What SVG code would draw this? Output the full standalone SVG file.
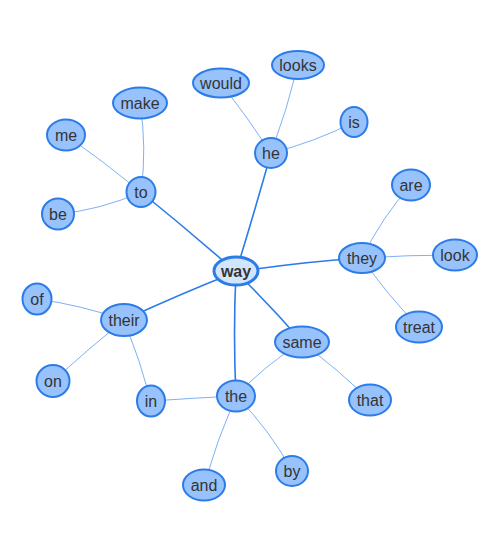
<svg xmlns="http://www.w3.org/2000/svg" width="500" height="550" viewBox="0 0 500 550">
<style>
.n ellipse{fill:#97C2FC;stroke:#2B7CE9;stroke-width:2}
.n text{font-family:"Liberation Sans",Arial,sans-serif;font-size:16px;fill:#343434;text-anchor:middle;dominant-baseline:central}
#n-way ellipse{fill:#D2E5FF;stroke-width:3}
#n-way text{font-weight:bold}
.e1{fill:none;stroke:#2B7CE9;stroke-width:1.6}
.e2{fill:none;stroke:#2B7CE9;stroke-width:1;stroke-opacity:0.6}
</style>
<rect width="500" height="550" fill="#fff"/>
<g id="edges">
<path class="e1" d="M236 272 Q255 210 271 153"/>
<path class="e1" d="M236 272 Q188 230 141 192"/>
<path class="e1" d="M236 272 Q300 262 362 258"/>
<path class="e1" d="M236 272 Q180 294 124 320"/>
<path class="e1" d="M236 272 Q233 334 236 396"/>
<path class="e1" d="M236 272 Q270 305 302 342"/>
<path class="e2" d="M271 153 Q248 118 221 83"/>
<path class="e2" d="M271 153 Q287 110 298 65"/>
<path class="e2" d="M271 153 Q315 142 354 122"/>
<path class="e2" d="M141 192 Q147 148 140 103"/>
<path class="e2" d="M141 192 Q104 162 66 135"/>
<path class="e2" d="M141 192 Q101 210 58 214"/>
<path class="e2" d="M362 258 Q382 217 411 185"/>
<path class="e2" d="M362 258 Q408 255 455 255"/>
<path class="e2" d="M362 258 Q387 295 419 327"/>
<path class="e2" d="M124 320 Q81 305 37 299"/>
<path class="e2" d="M124 320 Q87 350 53 381"/>
<path class="e2" d="M124 320 Q140 360 151 401"/>
<path class="e2" d="M151 401 Q194 398 236 396"/>
<path class="e2" d="M236 396 Q265 365 302 342"/>
<path class="e2" d="M302 342 Q338 370 370 400"/>
<path class="e2" d="M236 396 Q270 430 292 471"/>
<path class="e2" d="M236 396 Q217 440 204 485"/>
</g>
<g id="n-way" class="n"><ellipse cx="236" cy="271" rx="22" ry="14"/><text x="236" y="271">way</text></g>
<g id="n-he" class="n"><ellipse cx="271" cy="153" rx="16" ry="15"/><text x="271" y="153">he</text></g>
<g id="n-would" class="n"><ellipse cx="221" cy="83" rx="28" ry="14.5"/><text x="221" y="83">would</text></g>
<g id="n-looks" class="n"><ellipse cx="298" cy="65" rx="26" ry="14"/><text x="298" y="65">looks</text></g>
<g id="n-is" class="n"><ellipse cx="354" cy="122" rx="13.5" ry="15"/><text x="354" y="122">is</text></g>
<g id="n-to" class="n"><ellipse cx="141" cy="192" rx="14.5" ry="15"/><text x="141" y="192">to</text></g>
<g id="n-make" class="n"><ellipse cx="140" cy="103" rx="27" ry="15.5"/><text x="140" y="103">make</text></g>
<g id="n-me" class="n"><ellipse cx="66" cy="135" rx="19" ry="15.5"/><text x="66" y="135">me</text></g>
<g id="n-be" class="n"><ellipse cx="58" cy="214" rx="16" ry="15.5"/><text x="58" y="214">be</text></g>
<g id="n-they" class="n"><ellipse cx="362" cy="258" rx="23" ry="15"/><text x="362" y="258">they</text></g>
<g id="n-are" class="n"><ellipse cx="411" cy="185" rx="19" ry="15.5"/><text x="411" y="185">are</text></g>
<g id="n-look" class="n"><ellipse cx="455" cy="255" rx="22" ry="15.5"/><text x="455" y="255">look</text></g>
<g id="n-treat" class="n"><ellipse cx="419" cy="327" rx="23" ry="15.5"/><text x="419" y="327">treat</text></g>
<g id="n-their" class="n"><ellipse cx="124" cy="320" rx="23" ry="16"/><text x="124" y="320">their</text></g>
<g id="n-of" class="n"><ellipse cx="37" cy="299" rx="14.5" ry="15.5"/><text x="37" y="299">of</text></g>
<g id="n-on" class="n"><ellipse cx="53" cy="381" rx="16.5" ry="16"/><text x="53" y="381">on</text></g>
<g id="n-in" class="n"><ellipse cx="151" cy="401" rx="14" ry="15.5"/><text x="151" y="401">in</text></g>
<g id="n-the" class="n"><ellipse cx="236" cy="396" rx="19" ry="15.5"/><text x="236" y="396">the</text></g>
<g id="n-same" class="n"><ellipse cx="302" cy="342" rx="27" ry="15.5"/><text x="302" y="342">same</text></g>
<g id="n-that" class="n"><ellipse cx="370" cy="400" rx="21" ry="15.5"/><text x="370" y="400">that</text></g>
<g id="n-by" class="n"><ellipse cx="292" cy="471" rx="16" ry="15"/><text x="292" y="471">by</text></g>
<g id="n-and" class="n"><ellipse cx="204" cy="485" rx="21" ry="15.5"/><text x="204" y="485">and</text></g>
</svg>
